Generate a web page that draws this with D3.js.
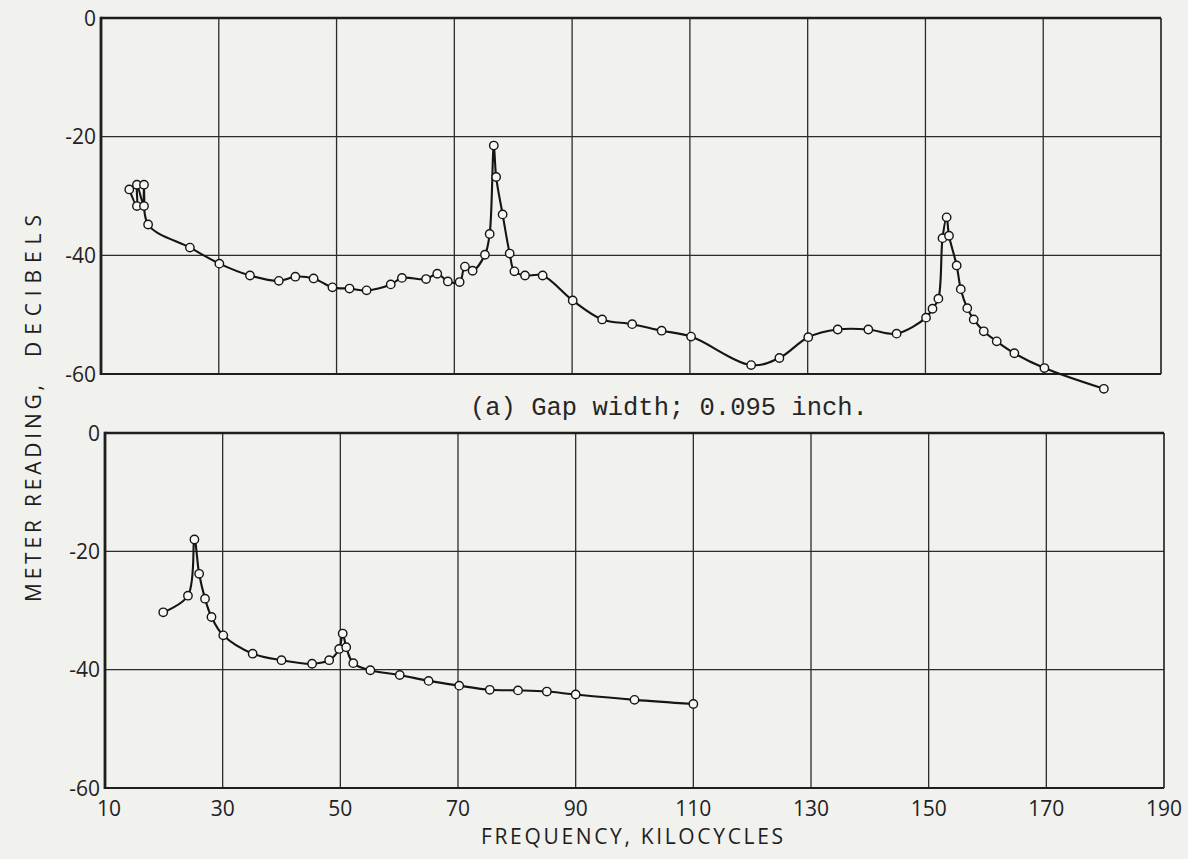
<!DOCTYPE html>
<html>
<head>
<meta charset="utf-8">
<script src="https://cdn.jsdelivr.net/npm/d3@7/dist/d3.min.js"></script>
<style>
  html, body { margin: 0; padding: 0; background: #f1f1ee; }
  svg { display: block; }
</style>
</head>
<body>
<svg id="chart" width="1188" height="859"></svg>
<script>
// ---- data ----
const xTicks = [10, 30, 50, 70, 90, 110, 130, 150, 170, 190];
const yTicks = [0, -20, -40, -60];

// (a) Gap width 0.095 inch
const aFreq = [14.8, 16.1, 16.1, 17.3, 17.3, 18.0, 25.1, 30.1, 35.3, 40.2, 43.0, 46.1, 49.3, 52.2, 55.1,
  59.2, 61.1, 65.2, 67.1, 68.9, 70.9, 71.8, 73.1, 75.2, 76.0, 76.7, 77.1, 78.2, 79.4, 80.2, 82.0, 85.0,
  90.1, 95.1, 100.2, 105.2, 110.2, 120.4, 125.2, 130.1, 135.1, 140.3, 145.1, 150.1, 151.2, 152.2,
  152.9, 153.6, 154.0, 155.3, 156.0, 157.1, 158.2, 159.9, 162.1, 165.1, 170.2, 180.3];
const aDb = [-28.9, -31.7, -28.1, -31.7, -28.1, -34.8, -38.7, -41.4, -43.4, -44.3, -43.6, -43.9, -45.4, -45.6, -45.9,
  -44.9, -43.8, -44.0, -43.1, -44.4, -44.5, -41.9, -42.6, -39.9, -36.4, -21.5, -26.8, -33.1, -39.7, -42.7, -43.4, -43.4,
  -47.6, -50.8, -51.6, -52.7, -53.7, -58.5, -57.3, -53.8, -52.5, -52.5, -53.2, -50.5, -49.0, -47.3,
  -37.1, -33.6, -36.7, -41.7, -45.7, -48.9, -50.8, -52.8, -54.5, -56.5, -59.0, -62.5];

// (b) lower panel
const bFreq = [19.9, 24.1, 25.2, 26.0, 27.0, 28.1, 30.1, 35.1, 40.0, 45.2, 48.1, 49.8, 50.4, 51.0, 52.2,
  55.1, 60.1, 65.0, 70.2, 75.4, 80.2, 85.1, 90.0, 100.0, 110.0];
const bDb = [-30.3, -27.5, -18.0, -23.8, -28.0, -31.1, -34.2, -37.3, -38.4, -39.0, -38.4, -36.5, -33.9, -36.2, -38.9,
  -40.1, -40.9, -41.9, -42.7, -43.4, -43.5, -43.7, -44.2, -45.1, -45.8];

const captionA = "(a) Gap width; 0.095 inch.";
const xTitle = "FREQUENCY, KILOCYCLES";
const yTitle1 = "METER READING,";
const yTitle2 = "DECIBELS";

// ---- drawing ----
const svg = d3.select("#chart");
const ink = "#1d1f1c";
const labelFont = "'Open Sans', 'DejaVu Sans', sans-serif";

function panel(cfg, freq, db, showX) {
  const x = d3.scaleLinear().domain([10, 190]).range([cfg.x0, cfg.x1]);
  const y = d3.scaleLinear().domain([-60, 0]).range([cfg.yb, cfg.yt]);
  const g = svg.append("g");

  // grid lines
  g.append("g").selectAll("line").data(xTicks.slice(1, -1)).join("line")
    .attr("x1", d => x(d)).attr("x2", d => x(d))
    .attr("y1", y(0)).attr("y2", y(-60))
    .attr("stroke", "#2a2d29").attr("stroke-width", 1.3);
  g.append("g").selectAll("line").data(yTicks.slice(1, -1)).join("line")
    .attr("x1", x(10)).attr("x2", x(190))
    .attr("y1", d => y(d)).attr("y2", d => y(d))
    .attr("stroke", "#2a2d29").attr("stroke-width", 1.3);

  // frame
  g.append("line").attr("x1", x(10)).attr("x2", x(190)).attr("y1", y(0)).attr("y2", y(0))
    .attr("stroke", ink).attr("stroke-width", 2.6);
  g.append("line").attr("x1", x(10)).attr("x2", x(190)).attr("y1", y(-60)).attr("y2", y(-60))
    .attr("stroke", ink).attr("stroke-width", 2.2);
  g.append("line").attr("x1", x(10)).attr("x2", x(10)).attr("y1", y(0) - 1.3).attr("y2", y(-60) + 1.1)
    .attr("stroke", ink).attr("stroke-width", 2.8);
  g.append("line").attr("x1", x(190)).attr("x2", x(190)).attr("y1", y(0)).attr("y2", y(-60))
    .attr("stroke", ink).attr("stroke-width", 1.6);

  // y tick labels
  g.append("g").selectAll("text").data(yTicks).join("text")
    .attr("x", x(10) - 5).attr("y", d => y(d))
    .attr("dy", "0.36em")
    .attr("text-anchor", "end")
    .attr("font-family", labelFont).attr("font-size", 21)
    .attr("fill", "#222")
    .text(d => d === 0 ? "0" : "-" + Math.abs(d));

  if (showX) {
    g.append("g").selectAll("text").data(xTicks).join("text")
      .attr("x", d => x(d) + (d === 10 ? 4 : 0)).attr("y", y(-60) + 28)
      .attr("text-anchor", "middle")
      .attr("font-family", labelFont).attr("font-size", 21)
      .attr("fill", "#222")
      .text(d => d);
  }

  // curve
  const pts = freq.map((f, i) => [f, db[i]]);
  const line = d3.line().x(d => x(d[0])).y(d => y(d[1])).curve(d3.curveCatmullRom.alpha(0.5));
  g.append("path").attr("d", line(pts)).attr("fill", "none")
    .attr("stroke", "#151515").attr("stroke-width", 2.1).attr("stroke-linejoin", "round");
  g.append("g").selectAll("circle").data(pts).join("circle")
    .attr("cx", d => x(d[0])).attr("cy", d => y(d[1])).attr("r", 4.2)
    .attr("fill", "#f7f7f5").attr("stroke", "#151515").attr("stroke-width", 1.4);
  return { x, y };
}

const panelA = panel({ x0: 101, x1: 1161, yt: 18, yb: 374 }, aFreq, aDb, false);
const panelB = panel({ x0: 105, x1: 1164, yt: 433, yb: 788 }, bFreq, bDb, true);

// caption of panel (a)
svg.append("text")
  .attr("x", 470).attr("y", 415)
  .attr("font-family", "'Liberation Mono', 'DejaVu Sans Mono', monospace")
  .attr("font-size", 25.5).attr("fill", "#262626")
  .text(captionA);

// x axis title
svg.append("text")
  .attr("x", 481).attr("y", 844)
  .attr("font-family", labelFont).attr("font-size", 21).attr("fill", "#1e1e1e")
  .attr("textLength", 302).attr("lengthAdjust", "spacing")
  .text(xTitle);

// y axis title (rotated)
svg.append("text")
  .attr("transform", "translate(41,602) rotate(-90)")
  .attr("font-family", labelFont).attr("font-size", 21).attr("fill", "#1e1e1e")
  .attr("textLength", 217).attr("lengthAdjust", "spacing")
  .text(yTitle1);
svg.append("text")
  .attr("transform", "translate(41,357) rotate(-90)")
  .attr("font-family", labelFont).attr("font-size", 21).attr("fill", "#1e1e1e")
  .attr("textLength", 142).attr("lengthAdjust", "spacing")
  .text(yTitle2);
</script>
</body>
</html>
